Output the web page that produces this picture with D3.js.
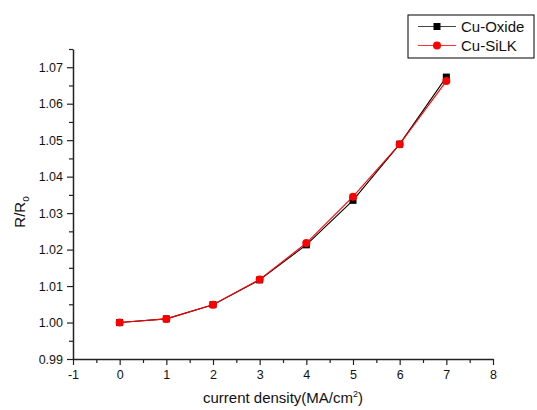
<!DOCTYPE html>
<html>
<head>
<meta charset="utf-8">
<script src="https://cdn.jsdelivr.net/npm/d3@7"></script>
<style>
  body { margin: 0; background: #fff; }
  svg { display: block; font-family: "Liberation Sans", Arial, sans-serif; }
  .axis path, .axis line { stroke: #222; }
</style>
</head>
<body>
<script>
var density = [0, 1, 2, 3, 4, 5, 6, 7];
var cuOxide = [1.0000, 1.0010, 1.0049, 1.0117, 1.0213, 1.0335, 1.0489, 1.0673];
var cuSilk  = [1.0000, 1.0010, 1.0049, 1.0118, 1.0218, 1.0345, 1.0489, 1.0662];
var seriesNames = ["Cu-Oxide", "Cu-SiLK"];
var xTicks = [-1, 0, 1, 2, 3, 4, 5, 6, 7, 8];
var yTicks = [0.99, 1.00, 1.01, 1.02, 1.03, 1.04, 1.05, 1.06, 1.07];

var width = 537,
    height = 410;
var margin = {top: 49, right: 44, bottom: 51, left: 73};

var svg = d3.select("body")
  .append("svg")
  .attr("width", width)
  .attr("height", height);

var x = d3.scaleLinear()
    .domain([-1, 8])
    .range([margin.left, width - margin.right]);

var y = d3.scaleLinear()
    .domain([0.99, 1.075])
    .range([height - margin.bottom, margin.top]);

// minor ticks first
var xMinor = d3.range(-0.5, 8, 1);
var yMinor = d3.range(0.995, 1.076, 0.01);

svg.append("g")
    .attr("class", "axis")
    .attr("transform", "translate(0," + y.range()[0] + ")")
    .call(d3.axisBottom(x).tickValues(xMinor).tickSize(4).tickFormat(""))
    .select(".domain").remove();

svg.append("g")
    .attr("class", "axis")
    .attr("transform", "translate(" + x.range()[0] + ",0)")
    .call(d3.axisLeft(y).tickValues(yMinor).tickSize(4).tickFormat(""))
    .select(".domain").remove();

var xAxis = svg.append("g")
    .attr("class", "axis")
    .attr("transform", "translate(0," + y.range()[0] + ")")
    .call(d3.axisBottom(x).tickValues(xTicks).tickSize(6).tickSizeOuter(0).tickPadding(5)
      .tickFormat(function(d) { return String(d); }));
xAxis.selectAll("text").attr("font-size", 12.5).attr("fill", "#111")
    .attr("font-family", "Liberation Sans, Arial, sans-serif");

var yAxis = svg.append("g")
    .attr("class", "axis")
    .attr("transform", "translate(" + x.range()[0] + ",0)")
    .call(d3.axisLeft(y).tickValues(yTicks).tickSize(6).tickSizeOuter(0).tickPadding(4)
      .tickFormat(d3.format(".2f")));
yAxis.selectAll("text").attr("font-size", 12.5).attr("fill", "#111")
    .attr("font-family", "Liberation Sans, Arial, sans-serif");

svg.selectAll(".axis .domain").attr("stroke-width", 1.5);
svg.selectAll(".axis .tick line").attr("stroke-width", 1.2);

// axis titles
var xt = svg.append("text")
    .attr("x", (x.range()[0] + x.range()[1]) / 2)
    .attr("y", 403)
    .attr("text-anchor", "middle")
    .attr("font-size", 15)
    .attr("fill", "#111");
xt.append("tspan").text("current density(MA/cm");
xt.append("tspan").attr("dy", -6).attr("font-size", 9).text("2");
xt.append("tspan").attr("dy", 6).text(")");

var yt = svg.append("text")
    .attr("transform", "translate(25," + 212 + ") rotate(-90)")
    .attr("text-anchor", "middle")
    .attr("font-size", 15)
    .attr("fill", "#111");
yt.append("tspan").text("R/R");
yt.append("tspan").attr("dy", 4).attr("font-size", 10).text("o");

// data
var line = d3.line()
    .x(function(d, i) { return x(density[i]); })
    .y(function(d) { return y(d); });

var series = [
  {name: seriesNames[0], values: cuOxide, color: "#000", shape: "square"},
  {name: seriesNames[1], values: cuSilk, color: "#f00", shape: "circle"}
];

series.forEach(function(s) {
  svg.append("path")
      .datum(s.values)
      .attr("fill", "none")
      .attr("stroke", s.color)
      .attr("stroke-width", 1.1)
      .attr("d", line);

  if (s.shape === "square") {
    svg.selectAll(null)
      .data(s.values)
      .enter().append("rect")
        .attr("x", function(d, i) { return x(density[i]) - 3.5; })
        .attr("y", function(d) { return y(d) - 3.5; })
        .attr("width", 7)
        .attr("height", 7)
        .attr("fill", s.color);
  } else {
    svg.selectAll(null)
      .data(s.values)
      .enter().append("circle")
        .attr("cx", function(d, i) { return x(density[i]); })
        .attr("cy", function(d) { return y(d); })
        .attr("r", 4)
        .attr("fill", s.color);
  }
});

// legend
var lg = svg.append("g").attr("transform", "translate(408,15)");
lg.append("rect")
    .attr("width", 126)
    .attr("height", 43)
    .attr("fill", "#fff")
    .attr("stroke", "#000")
    .attr("stroke-width", 1);

series.forEach(function(s, i) {
  var ly = 11.5 + i * 19;
  lg.append("line")
      .attr("x1", 10).attr("x2", 48)
      .attr("y1", ly).attr("y2", ly)
      .attr("stroke", i === 0 ? "#444" : "#f33")
      .attr("stroke-width", 1.2);
  if (s.shape === "square") {
    lg.append("rect")
        .attr("x", 29 - 3.5).attr("y", ly - 3.5)
        .attr("width", 7).attr("height", 7)
        .attr("fill", s.color);
  } else {
    lg.append("circle")
        .attr("cx", 29).attr("cy", ly).attr("r", 4)
        .attr("fill", s.color);
  }
  lg.append("text")
      .attr("x", 53)
      .attr("y", ly + 5.5)
      .attr("font-size", 15)
      .attr("fill", "#111")
      .text(s.name);
});
</script>
</body>
</html>
